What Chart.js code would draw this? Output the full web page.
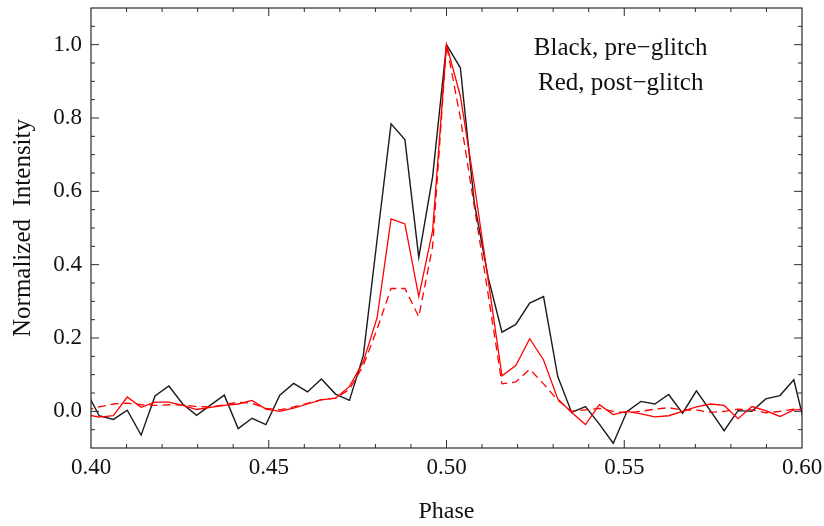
<!DOCTYPE html>
<html>
<head>
<meta charset="utf-8">
<script src="https://cdn.jsdelivr.net/npm/chart.js@4.4.1/dist/chart.umd.min.js"></script>
<style>
  html, body { margin: 0; padding: 0; background: #fff; }
  #wrap { width: 824px; height: 526px; }
</style>
</head>
<body>
<div id="wrap"><canvas id="myChart" width="824" height="526"></canvas></div>
<script>
// phase bins (1/256 of a turn)
const phase = [
  0.3984, 0.4023, 0.4063, 0.4102, 0.4141, 0.4180, 0.4219, 0.4258, 0.4297, 0.4336,
  0.4375, 0.4414, 0.4453, 0.4492, 0.4531, 0.4570, 0.4609, 0.4648, 0.4688, 0.4727,
  0.4766, 0.4805, 0.4844, 0.4883, 0.4922, 0.4961, 0.5000, 0.5039, 0.5078, 0.5117,
  0.5156, 0.5195, 0.5234, 0.5273, 0.5313, 0.5352, 0.5391, 0.5430, 0.5469, 0.5508,
  0.5547, 0.5586, 0.5625, 0.5664, 0.5703, 0.5742, 0.5781, 0.5820, 0.5859, 0.5898,
  0.5938, 0.5977, 0.6016
];
// black, pre-glitch
const preGlitch = [
  0.060, -0.012, -0.022, 0.003, -0.065, 0.042, 0.069, 0.020, -0.011, 0.017,
  0.044, -0.047, -0.019, -0.036, 0.044, 0.076, 0.053, 0.088, 0.047, 0.030,
  0.152, 0.470, 0.784, 0.741, 0.420, 0.640, 1.000, 0.937, 0.570, 0.366,
  0.216, 0.237, 0.295, 0.313, 0.095, -0.003, 0.013, -0.035, -0.087, 0.000,
  0.027, 0.020, 0.046, -0.005, 0.056, 0.002, -0.053, 0.002, 0.000, 0.034,
  0.043, 0.086, -0.070
];
// red solid, post-glitch
const postGlitch = [
  -0.008, -0.016, -0.012, 0.039, 0.011, 0.025, 0.025, 0.016, 0.005, 0.011,
  0.016, 0.020, 0.030, 0.006, 0.000, 0.009, 0.020, 0.031, 0.036, 0.068,
  0.135, 0.256, 0.525, 0.511, 0.313, 0.493, 1.000, 0.860, 0.620, 0.360,
  0.097, 0.125, 0.198, 0.140, 0.034, -0.003, -0.036, 0.018, -0.009, 0.000,
  -0.007, -0.015, -0.012, 0.000, 0.012, 0.020, 0.016, -0.020, 0.013, 0.002,
  -0.014, 0.004, 0.005
];
// red dashed, post-glitch
const postGlitchAlt = [
  0.003, 0.012, 0.020, 0.022, 0.018, 0.016, 0.018, 0.017, 0.013, 0.012,
  0.018, 0.025, 0.022, 0.008, 0.004, 0.012, 0.022, 0.032, 0.036, 0.060,
  0.125, 0.225, 0.335, 0.335, 0.258, 0.450, 1.000, 0.800, 0.560, 0.320,
  0.075, 0.080, 0.115, 0.075, 0.030, 0.000, 0.004, 0.008, 0.000, -0.004,
  0.000, 0.006, 0.010, 0.003, 0.004, -0.003, 0.000, 0.006, 0.004, -0.004,
  0.000, 0.006, 0.006
];
const xTicks = [0.40, 0.45, 0.50, 0.55, 0.60];
const yTicks = [0.0, 0.2, 0.4, 0.6, 0.8, 1.0];
const notes = ['Black, pre\u2212glitch', 'Red, post\u2212glitch'];

const serif = '"Liberation Serif", "DejaVu Serif", serif';

function points(values) {
  return values.map((v, i) => ({ x: phase[i], y: v }));
}

// Mathematica style frame: inward ticks on all four sides plus the label text
const frameTicks = {
  id: 'frameTicks',
  afterDatasetsDraw(chart) {
    const { ctx, chartArea: a, scales: { x, y } } = chart;
    ctx.save();
    ctx.strokeStyle = '#2b2b2b';
    ctx.lineWidth = 1.2;
    ctx.strokeRect(a.left, a.top, a.right - a.left, a.bottom - a.top);
    ctx.lineWidth = 1;
    ctx.beginPath();
    for (let i = 1; i < 20; i++) {
      const px = x.getPixelForValue(0.40 + i * 0.01);
      const len = i % 5 === 0 ? 8 : 4;
      ctx.moveTo(px, a.bottom); ctx.lineTo(px, a.bottom - len);
      ctx.moveTo(px, a.top); ctx.lineTo(px, a.top + len);
    }
    for (let i = 1; i < 24; i++) {
      const py = y.getPixelForValue(-0.1 + i * 0.05);
      const len = (i - 2) % 4 === 0 ? 8 : 4;
      ctx.moveTo(a.left, py); ctx.lineTo(a.left + len, py);
      ctx.moveTo(a.right, py); ctx.lineTo(a.right - len, py);
    }
    ctx.stroke();

    ctx.fillStyle = '#111';
    ctx.font = '25px ' + serif;
    ctx.textAlign = 'center';
    ctx.textBaseline = 'middle';
    ctx.fillText(notes[0], x.getPixelForValue(0.549), y.getPixelForValue(0.99));
    ctx.fillText(notes[1], x.getPixelForValue(0.549), y.getPixelForValue(0.893));
    ctx.restore();
  }
};

const ctx = document.getElementById('myChart').getContext('2d');
const myChart = new Chart(ctx, {
  type: 'line',
  data: {
    datasets: [
      {
        label: 'post-glitch (dashed)',
        data: points(postGlitchAlt),
        borderColor: 'rgb(255, 0, 0)',
        borderWidth: 1.3,
        borderDash: [8, 5]
      },
      {
        label: 'post-glitch',
        data: points(postGlitch),
        borderColor: 'rgb(255, 0, 0)',
        borderWidth: 1.3
      },
      {
        label: 'pre-glitch',
        data: points(preGlitch),
        borderColor: '#1a1a1a',
        borderWidth: 1.4
      }
    ]
  },
  options: {
    responsive: false,
    animation: false,
    events: [],
    elements: { point: { radius: 0 }, line: { tension: 0 } },
    layout: { padding: { top: 8, right: 22, left: 0, bottom: 0 } },
    plugins: { legend: { display: false }, tooltip: { enabled: false } },
    scales: {
      x: {
        type: 'linear',
        min: 0.40,
        max: 0.60,
        afterBuildTicks: s => { s.ticks = xTicks.map(v => ({ value: v })); },
        afterFit: s => { s.height = 78; s.paddingLeft = 0; s.paddingRight = 0; },
        grid: { display: false, drawTicks: false },
        border: { display: false },
        ticks: {
          padding: 6,
          color: '#111',
          font: { family: serif, size: 23 },
          callback: v => v.toFixed(2)
        },
        title: {
          display: true,
          text: 'Phase',
          color: '#111',
          font: { family: serif, size: 24 },
          padding: { top: 0, bottom: 0 }
        }
      },
      y: {
        type: 'linear',
        min: -0.1,
        max: 1.1,
        afterBuildTicks: s => { s.ticks = yTicks.map(v => ({ value: v })); },
        afterFit: s => { s.width = 91; s.paddingTop = 0; s.paddingBottom = 0; },
        grid: { display: false, drawTicks: false },
        border: { display: false },
        ticks: {
          padding: 9,
          color: '#111',
          font: { family: serif, size: 23 },
          callback: v => v.toFixed(1)
        },
        title: {
          display: true,
          text: 'Normalized  Intensity',
          color: '#111',
          font: { family: serif, size: 25 },
          padding: { top: 8, bottom: 0 }
        }
      }
    }
  },
  plugins: [frameTicks]
});
</script>
</body>
</html>
